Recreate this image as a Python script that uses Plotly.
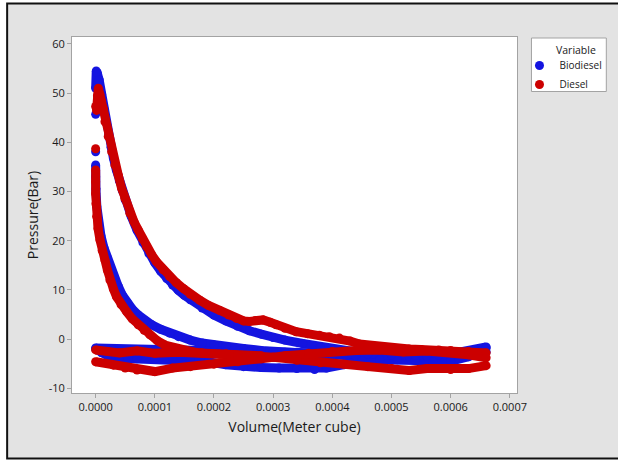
import plotly.graph_objects as go

# ---- Biodiesel pressure-volume cycle (Volume in m^3, Pressure in bar) ----
bio_expansion_v = [0, 0.000001, 0.000003, 0.000006, 0.00001, 0.000014, 0.000018, 0.000022,
                   0.000026, 0.00003, 0.000035, 0.00004, 0.000045, 0.00005, 0.00006, 0.00007,
                   0.00008, 0.00009, 0.0001, 0.00011, 0.00012, 0.00013, 0.00014, 0.00015,
                   0.00016, 0.00018, 0.0002, 0.00022, 0.00024, 0.00026, 0.00028, 0.0003,
                   0.00032, 0.00035, 0.00038, 0.00041, 0.00044, 0.00047, 0.0005, 0.00053,
                   0.00056, 0.00059, 0.00062, 0.00064, 0.00066]
bio_expansion_p = [51.0, 54.5, 54.0, 52.7, 49.8, 46.8, 44.0, 41.4,
                   39.0, 36.8, 34.4, 32.2, 30.2, 28.3, 25.0, 22.1,
                   19.6, 17.4, 15.5, 13.8, 12.3, 11.0, 9.9, 8.9,
                   8.0, 6.3, 4.9, 3.7, 2.6, 1.7, 1.0, 0.3,
                   -0.2, -0.9, -1.6, -2.1, -2.6, -3.0, -3.3, -3.5,
                   -3.5, -3.2, -2.7, -2.2, -1.6]

bio_compression_v = [0.00044, 0.0004, 0.00036, 0.00032, 0.00028, 0.00025, 0.00022, 0.0002,
                     0.00018, 0.00016, 0.00014, 0.000125, 0.00011, 0.000095, 0.000083, 0.000072,
                     0.000062, 0.000053, 0.000045, 0.000038, 0.000032, 0.000026, 0.00002, 0.000014,
                     0.000009, 0.000005, 0.000002, 0.0000005, 0, 0]
bio_compression_p = [-3.5, -3.3, -3.0, -2.7, -2.3, -1.9, -1.5, -1.2,
                     -0.8, -0.2, 0.5, 1.2, 2.0, 2.9, 3.8, 4.9,
                     6.1, 7.5, 9.0, 10.8, 12.5, 14.3, 16.4, 18.6,
                     21.0, 23.6, 27.0, 30.5, 33.0, 35.4]

bio_intake_v = [0, 0.00001, 0.00002, 0.00004, 0.00007, 0.0001, 0.00013, 0.00016, 0.00019,
                0.00022, 0.00025, 0.00028, 0.00031, 0.00034, 0.00037, 0.00039, 0.00042,
                0.00045, 0.00048, 0.00051, 0.00054, 0.00057, 0.0006, 0.00063, 0.00065, 0.00066]
bio_intake_p = [-2.0, -2.8, -3.4, -3.9, -4.0, -4.0, -4.1, -4.3, -4.6,
                -5.2, -5.6, -5.8, -5.9, -6.0, -6.2, -5.9, -5.2,
                -4.4, -4.2, -4.2, -4.3, -4.6, -4.5, -3.6, -2.5, -1.8]

bio_exhaust_v = [0.00066, 0.00062, 0.00058, 0.00054, 0.0005, 0.00046, 0.00042, 0.00038, 0.00034,
                 0.0003, 0.00026, 0.00022, 0.00018, 0.00014, 0.0001, 0.00006, 0.00003, 0]
bio_exhaust_p = [-2.6, -3.0, -3.2, -3.3, -3.2, -3.0, -2.9, -2.8, -2.7,
                 -2.6, -2.6, -2.5, -2.5, -2.4, -2.4, -2.3, -2.2, -1.8]

bio_ignition_v = [0, 0]
bio_ignition_p = [38.1, 45.7]

# ---- Diesel pressure-volume cycle ----
die_expansion_v = [0.0000015, 0.000003, 0.0000045, 0.000007, 0.0000095, 0.0000128, 0.0000157,
                   0.0000213, 0.000027, 0.0000325, 0.0000381, 0.0000438, 0.0000494, 0.0000578,
                   0.000065, 0.0000719, 0.000079, 0.000086, 0.000095, 0.000103, 0.000114,
                   0.000125, 0.000136, 0.000148, 0.00016, 0.000176, 0.00019, 0.00021,
                   0.000225, 0.000238, 0.00025, 0.00026, 0.00027, 0.000283, 0.000295,
                   0.000305, 0.00032, 0.000339, 0.000358, 0.000378, 0.000395, 0.000412,
                   0.00043, 0.000446, 0.00047, 0.0005, 0.00053, 0.00055, 0.00058, 0.0006,
                   0.00063, 0.00066]
die_expansion_p = [46.5, 49.5, 51.0, 49.8, 48.4, 46.9, 44.2,
                   41.2, 38.1, 35.4, 33.4, 30.7, 28.6, 25.6,
                   23.8, 22.2, 20.4, 18.8, 17.1, 15.7, 14.1,
                   12.7, 11.5, 10.3, 9.1, 7.9, 6.9, 5.8,
                   4.9, 4.2, 3.7, 3.6, 3.8, 3.9, 3.4,
                   2.9, 2.2, 1.5, 1.1, 0.8, 0.5, 0.2,
                   -0.4, -1.0, -1.4, -1.8, -2.0, -2.1, -2.2, -2.3,
                   -2.5, -2.8]

die_compression_v = [0.00028, 0.00024, 0.00021, 0.000185, 0.000165, 0.000146, 0.00013, 0.000117,
                     0.000104, 0.0000916, 0.000082, 0.0000719, 0.000062, 0.0000523, 0.000043,
                     0.0000354, 0.00003, 0.0000241, 0.00002, 0.0000157, 0.000011, 0.0000073,
                     0.000004, 0.0000017, 0.0000005, 0, 0, 0]
die_compression_p = [-3.4, -3.3, -3.1, -2.9, -2.6, -2.2, -1.7, -1.2,
                     -0.3, 0.85, 1.8, 2.9, 4.1, 5.6, 7.0,
                     8.6, 10.2, 12.0, 14.0, 16.1, 18.0, 20.2,
                     22.5, 24.9, 27.5, 29.6, 32.0, 34.4]

die_exhaust_v = [0, 0.00002, 0.00004, 0.00007, 0.0001, 0.00014, 0.00018, 0.00022, 0.00026, 0.0003,
                 0.00034, 0.00038, 0.00042, 0.00046, 0.0005, 0.00053, 0.00056, 0.0006, 0.00063,
                 0.00066]
die_exhaust_p = [-2.2, -2.5, -2.8, -2.4, -2.9, -2.7, -2.8, -3.0, -3.4, -3.7,
                 -4.3, -4.8, -5.1, -5.6, -6.0, -6.4, -6.0, -6.2, -6.0,
                 -5.4]

die_intake_v = [0, 0.00003, 0.00005, 0.00007, 0.0001, 0.00013, 0.00016, 0.0002, 0.00024, 0.00028,
                0.00032, 0.00036, 0.0004, 0.00044, 0.00048, 0.00052, 0.00056, 0.0006, 0.00063,
                0.00066]
die_intake_p = [-4.6, -5.3, -5.9, -6.3, -6.6, -5.9, -5.6, -5.1, -4.6, -4.0,
                -3.4, -2.9, -2.5, -2.3, -2.2, -2.6, -2.4, -2.7, -3.2,
                -3.8]

die_ignition_v = [0, 0]
die_ignition_p = [38.7, 47.3]

# ---- axis ticks ----
x_ticks = [0, 0.0001, 0.0002, 0.0003, 0.0004, 0.0005, 0.0006, 0.0007]
y_ticks = [-10, 0, 10, 20, 30, 40, 50, 60]

BLUE = "#1414e0"
RED = "#cc0000"
FONT = "Open Sans"
TEXT = "#1a1a1a"
FRAME = "#a3a3a3"


def join_segments(*segments):
    """Concatenate (v, p) strokes, separating them with gaps."""
    xs, ys = [], []
    for v, p in segments:
        if xs:
            xs.append(None)
            ys.append(None)
        xs.extend(v)
        ys.extend(p)
    return xs, ys


def split_points(v, p):
    return [([a], [b]) for a, b in zip(v, p)]


series = [
    ("Biodiesel", BLUE, [
        (bio_expansion_v, bio_expansion_p),
        (bio_compression_v, bio_compression_p),
        (bio_intake_v, bio_intake_p),
        (bio_exhaust_v, bio_exhaust_p),
        *split_points(bio_ignition_v, bio_ignition_p),
    ]),
    ("Diesel", RED, [
        (die_expansion_v, die_expansion_p),
        (die_compression_v, die_compression_p),
        (die_exhaust_v, die_exhaust_p),
        (die_intake_v, die_intake_p),
        *split_points(die_ignition_v, die_ignition_p),
    ]),
]

fig = go.Figure()
for name, color, segs in series:
    xs, ys = join_segments(*segs)
    fig.add_trace(go.Scatter(
        x=xs, y=ys, mode="lines", connectgaps=False,
        line=dict(color=color, width=9),
        legendgroup=name, showlegend=False, hoverinfo="skip",
    ))
    fig.add_trace(go.Scatter(
        x=xs, y=ys, mode="markers", name=name, legendgroup=name,
        marker=dict(color=color, size=9),
    ))

# figure geometry (pixels)
W, H = 618, 462
ML, MR, MT, MB = 72, 100, 37, 69
PW, PH = W - ML - MR, H - MT - MB


def px_x(px):
    return (px - ML) / PW


def px_y(py):
    return (H - MB - py) / PH


shapes = [
    # grey panel with black frame
    dict(type="rect", xref="paper", yref="paper", layer="below",
         x0=px_x(7), x1=px_x(660), y0=px_y(458.5), y1=px_y(3.5),
         fillcolor="#e3e3e3", line=dict(color="#111111", width=2)),
    # white data region
    dict(type="rect", xref="paper", yref="paper", layer="below",
         x0=0, x1=1, y0=0, y1=1, fillcolor="white", line=dict(width=0)),
    # legend box
    dict(type="rect", xref="paper", yref="paper", layer="below",
         x0=px_x(532.5), x1=px_x(607.5), y0=px_y(91.5), y1=px_y(38),
         fillcolor="white", line=dict(color=FRAME, width=1)),
]

axis_common = dict(
    showgrid=False, zeroline=False, showline=True, mirror=True,
    linecolor=FRAME, linewidth=1, ticks="outside", ticklen=4,
    tickcolor=FRAME, tickwidth=1,
    tickfont=dict(family=FONT, size=11, color=TEXT),
)

fig.update_layout(
    width=W, height=H,
    margin=dict(l=ML, r=MR, t=MT, b=MB, pad=0),
    paper_bgcolor="white", plot_bgcolor="white",
    font=dict(family=FONT, color=TEXT),
    shapes=shapes,
    xaxis=dict(
        range=[-0.00003997, 0.00071214],
        tickvals=x_ticks, ticktext=[f"{v:.4f}" for v in x_ticks],
        title=dict(text="Volume(Meter cube)", font=dict(family=FONT, size=14, color=TEXT), standoff=8),
        **axis_common,
    ),
    yaxis=dict(
        range=[-10.96, 61.42],
        tickvals=y_ticks, ticktext=[str(v) for v in y_ticks],
        title=dict(text="Pressure(Bar)", font=dict(family=FONT, size=14, color=TEXT), standoff=6),
        **axis_common,
    ),
    legend=dict(
        x=px_x(519.5), y=px_y(51), xanchor="left", yanchor="top",
        bgcolor="rgba(0,0,0,0)", borderwidth=0, tracegroupgap=0,
        font=dict(family=FONT, size=10, color=TEXT),
    ),
    annotations=[
        dict(text="Variable", xref="paper", yref="paper",
             x=px_x(555.5), y=px_y(50), xanchor="left", yanchor="middle",
             showarrow=False, font=dict(family=FONT, size=10.5, color=TEXT)),
    ],
)

fig.write_html("out.html")
